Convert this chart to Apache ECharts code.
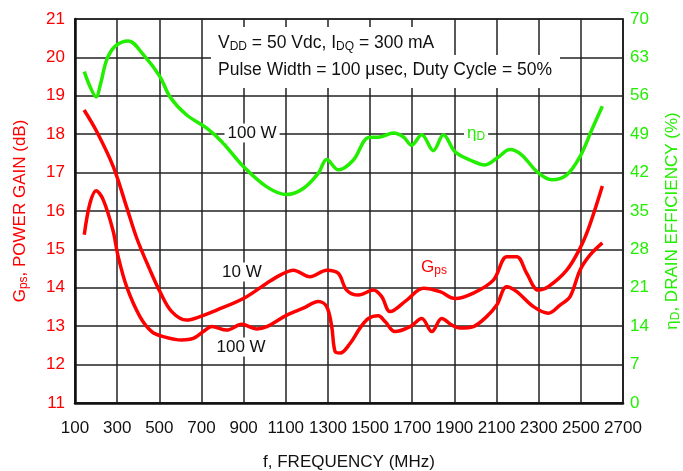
<!DOCTYPE html>
<html>
<head>
<meta charset="utf-8">
<script src="https://cdn.jsdelivr.net/npm/echarts@6/dist/echarts.min.js"></script>
<style>html,body{margin:0;padding:0;background:#fff;}#c{width:683px;height:471px;}</style>
</head>
<body>
<div id="c"></div>
<script>
// Tick values
const xTicks = { min: 100, max: 2700, step: 200 };
const gainTicks = { min: 11, max: 21, step: 1 };
const effTicks = { min: 0, max: 70, step: 7 };

// Drain efficiency, 100 W  [MHz, %]
const effData = [[144,60.4],[171,57.7],[200,55.8],[222,58.3],[250,62.5],[290,65.0],[353,66.0],[424,63.5],[503,59.5],[551,55.8],[630,52.5],[725,50.1],[800,47.5],[899,43.1],[1010,39.4],[1105,38.0],[1183,39.1],[1255,41.9],[1294,44.4],[1350,42.5],[1421,44.3],[1492,48.4],[1547,48.5],[1610,49.2],[1658,48.5],[1697,47.0],[1745,48.9],[1800,46.0],[1848,48.9],[1903,45.8],[1974,44.3],[2045,43.4],[2101,44.6],[2164,46.2],[2220,45.2],[2291,42.2],[2362,40.7],[2433,41.6],[2496,44.9],[2552,49.8],[2602,54.1]];

// Power gain, 10 W  [MHz, dB]
const gain10 = [[143,18.63],[203,18.07],[282,17.15],[345,16.1],[393,15.29],[456,14.46],[503,13.9],[559,13.38],[630,13.16],[693,13.25],[772,13.42],[899,13.72],[1010,14.12],[1080,14.35],[1136,14.46],[1215,14.29],[1294,14.46],[1349,14.38],[1389,13.94],[1445,13.81],[1516,13.94],[1555,13.77],[1595,13.38],[1674,13.68],[1753,13.99],[1832,13.9],[1903,13.72],[1990,13.86],[2085,14.2],[2149,14.81],[2196,14.81],[2243,14.38],[2298,13.94],[2346,14.03],[2433,14.46],[2496,15.03],[2540,15.6],[2602,16.65]];

// Power gain, 100 W  [MHz, dB]
const gain100 = [[144,15.38],[171,16.2],[200,16.53],[234,16.29],[280,15.5],[305,14.81],[345,14.03],[408,13.25],[464,12.86],[519,12.73],[606,12.64],[661,12.68],[709,12.86],[749,12.99],[820,12.9],[891,13.05],[962,12.93],[1010,12.99],[1105,13.29],[1183,13.47],[1255,13.64],[1294,13.51],[1318,12.99],[1334,12.34],[1358,12.3],[1405,12.55],[1452,12.95],[1492,13.2],[1539,13.27],[1571,13.12],[1618,12.86],[1690,12.99],[1745,13.2],[1793,12.86],[1840,13.2],[1888,13.03],[1927,12.95],[1990,12.99],[2053,13.25],[2101,13.55],[2148,14.03],[2196,13.9],[2275,13.51],[2346,13.34],[2401,13.55],[2449,13.77],[2496,14.46],[2543,14.85],[2602,15.17]];

// Annotation anchors [MHz, value]
const lbl100Weff = [940, 49.2];
const lblEta = [2003, 49.2];
const lbl10W = [892, 14.41];
const lbl100W = [888, 12.46];
const lblGps = [1803, 14.54];

const RED = '#ff0000';
const GREEN = '#22ee00';
const FONT = '"Liberation Sans", Arial, sans-serif';
const FS = 17;

function mp(coord, text, color, rich) {
  return {
    symbol: 'rect', symbolSize: 1, silent: true,
    itemStyle: { color: 'rgba(0,0,0,0)' },
    label: { show: true, position: 'inside', formatter: text, color: color, fontFamily: FONT, fontSize: FS,
      backgroundColor: '#fff', padding: [1, 3], rich: rich || {} },
    data: [{ coord: coord }]
  };
}

const chart = echarts.init(document.getElementById('c'), null, { renderer: 'canvas' });
chart.setOption({
  animation: false,
  backgroundColor: '#fff',
  textStyle: { fontFamily: FONT },
  grid: { left: 75, right: 60, top: 19, bottom: 68, show: true, borderColor: '#222', borderWidth: 1.5 },
  xAxis: {
    type: 'value', min: xTicks.min, max: xTicks.max, interval: xTicks.step,
    axisLine: { show: true, lineStyle: { color: '#111', width: 2.5 } },
    axisTick: { show: false },
    axisLabel: { color: '#111', fontSize: FS, fontFamily: FONT, margin: 17, hideOverlap: false,
      showMinLabel: true, showMaxLabel: true, formatter: function (v) { return String(v); } },
    splitLine: { show: true, lineStyle: { color: '#222', width: 1.5 } }
  },
  yAxis: [
    {
      type: 'value', min: gainTicks.min, max: gainTicks.max, interval: gainTicks.step,
      axisLine: { show: true, lineStyle: { color: '#111', width: 2.5 } },
      axisTick: { show: false },
      axisLabel: { color: RED, fontSize: FS, fontFamily: FONT, margin: 10 },
      splitLine: { show: true, lineStyle: { color: '#222', width: 1.5 } }
    },
    {
      type: 'value', min: effTicks.min, max: effTicks.max, interval: effTicks.step, position: 'right',
      axisLine: { show: true, lineStyle: { color: '#222', width: 1.5 } },
      axisTick: { show: false },
      axisLabel: { color: GREEN, fontSize: FS, fontFamily: FONT, margin: 7 },
      splitLine: { show: false }
    }
  ],
  series: [
    { type: 'line', name: 'eff', yAxisIndex: 1, data: effData, smooth: 0.35, symbol: 'none',
      lineStyle: { color: GREEN, width: 3.5 }, z: 3,
      markPoint: mp(lbl100Weff, '100 W', '#111') },
    { type: 'line', name: 'g10', yAxisIndex: 0, data: gain10, smooth: 0.35, symbol: 'none',
      lineStyle: { color: RED, width: 3.5 }, z: 3,
      markPoint: mp(lbl10W, '10 W', '#111') },
    { type: 'line', name: 'g100', yAxisIndex: 0, data: gain100, smooth: 0.35, symbol: 'none',
      lineStyle: { color: RED, width: 3.5 }, z: 3,
      markPoint: mp(lbl100W, '100 W', '#111') },
    { type: 'line', name: 'lbls', yAxisIndex: 1, data: [], symbol: 'none',
      markPoint: mp(lblEta, '{m|η}{s|D}', GREEN, { m: { fontSize: FS, color: GREEN, fontFamily: FONT }, s: { fontSize: 12, color: GREEN, fontFamily: FONT, padding: [8, 0, 0, 0] } }) },
    { type: 'line', name: 'lbls2', yAxisIndex: 0, data: [], symbol: 'none',
      markPoint: mp(lblGps, '{m|G}{s|ps}', RED, { m: { fontSize: FS, color: RED, fontFamily: FONT }, s: { fontSize: 12, color: RED, fontFamily: FONT, padding: [8, 0, 0, 0] } }) }
  ],
  graphic: [
    { type: 'rect', z: 50, shape: { x: 211, y: 27, width: 236, height: 28 }, style: { fill: '#fff' } },
    { type: 'rect', z: 50, shape: { x: 211, y: 55, width: 349, height: 33 }, style: { fill: '#fff' } },
    { type: 'text', z: 51, x: 218, y: 43, style: {
        text: '{m|V}{s|DD}{m| = 50 Vdc, I}{s|DQ}{m| = 300 mA}', textVerticalAlign: 'middle', textAlign: 'left',
        rich: { m: { fontSize: 17.5, fontFamily: FONT, fill: '#111' }, s: { fontSize: 12, fontFamily: FONT, fill: '#111', padding: [8, 0, 0, 0] } } } },
    { type: 'text', z: 51, x: 218, y: 70, style: {
        text: 'Pulse Width = 100 μsec, Duty Cycle = 50%', textVerticalAlign: 'middle', textAlign: 'left',
        fontSize: 17.5, fontFamily: FONT, fill: '#111' } },
    { type: 'text', z: 51, x: 20, y: 211, rotation: Math.PI / 2, style: {
        text: '{m|G}{s|ps}{m|, POWER GAIN (dB)}', textVerticalAlign: 'middle', textAlign: 'center',
        rich: { m: { fontSize: FS, fontFamily: FONT, fill: RED }, s: { fontSize: 12, fontFamily: FONT, fill: RED, padding: [8, 0, 0, 0] } } } },
    { type: 'text', z: 51, x: 672, y: 221, rotation: Math.PI / 2, style: {
        text: '{m|η}{s|D}{m|, DRAIN EFFICIENCY (%)}', textVerticalAlign: 'middle', textAlign: 'center',
        rich: { m: { fontSize: FS, fontFamily: FONT, fill: GREEN }, s: { fontSize: 12, fontFamily: FONT, fill: GREEN, padding: [8, 0, 0, 0] } } } },
    { type: 'text', z: 51, x: 349, y: 462, style: {
        text: 'f, FREQUENCY (MHz)', textVerticalAlign: 'middle', textAlign: 'center',
        fontSize: FS, fontFamily: FONT, fill: '#111' } }
  ]
});
</script>
</body>
</html>
